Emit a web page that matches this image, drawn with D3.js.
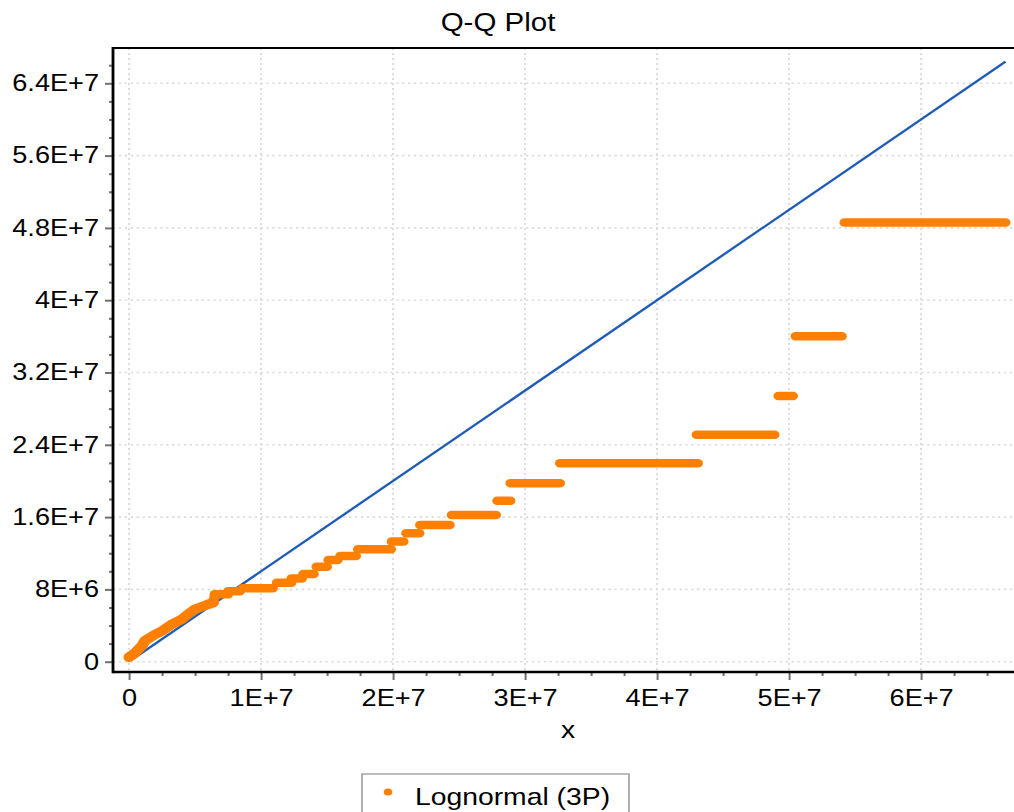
<!DOCTYPE html>
<html>
<head>
<meta charset="utf-8">
<script src="https://cdn.jsdelivr.net/npm/d3@7"></script>
<style>
  html, body { margin: 0; padding: 0; background: #fff; }
  svg { display: block; font-family: "Liberation Sans", Arial, sans-serif; }
</style>
</head>
<body>
<svg id="chart"></svg>
<script>
// values in units of 1e6
const lowX = [0.0, 0.4, 1.0, 1.2, 1.9, 2.5, 3.2, 4.0, 4.6, 5.0, 5.9, 6.4],
      lowY = [0.5, 0.9, 1.8, 2.3, 2.95, 3.4, 4.1, 4.7, 5.4, 5.8, 6.3, 6.55];

const stepStart = [6.5, 7.5, 8.6, 11.2, 12.3, 13.2, 14.2, 15.1, 16.0, 17.35, 19.9, 21.0, 22.05, 24.45, 27.9, 28.9, 32.65, 43.0, 49.2, 50.5, 54.2],
      stepEnd   = [7.5, 8.4, 10.9, 12.3, 13.1, 14.0, 15.0, 15.8, 17.2, 19.85, 20.8, 22.0, 24.3, 27.8, 28.9, 32.65, 43.1, 48.9, 50.3, 54.0, 66.4],
      stepLevel = [7.45, 7.8, 8.12, 8.74, 9.2, 9.7, 10.5, 11.25, 11.7, 12.44, 13.3, 14.2, 15.13, 16.23, 17.8, 19.74, 21.95, 25.1, 29.4, 36.0, 48.6];

const refLine = [0.2, 66.4];

const xTicks = [0, 10, 20, 30, 40, 50, 60],
      xTickLabels = ["0", "1E+7", "2E+7", "3E+7", "4E+7", "5E+7", "6E+7"],
      yTicks = [0, 8, 16, 24, 32, 40, 48, 56, 64],
      yTickLabels = ["0", "8E+6", "1.6E+7", "2.4E+7", "3.2E+7", "4E+7", "4.8E+7", "5.6E+7", "6.4E+7"];

const W = 1014, H = 812,
      sx = 1.18,             // the picture is stretched horizontally
      px = v => v / sx,
      colorPoints = "#ff8000",
      colorLine = "#1f5cb6",
      colorGrid = "#dcdcdc",
      colorTick = "#707070";

const svg = d3.select("#chart")
    .attr("width", W).attr("height", H)
    .attr("viewBox", `0 0 ${px(W)} ${H}`)
    .attr("preserveAspectRatio", "none");

const plotLeft = px(113), plotRight = px(W), plotTop = 48, plotBottom = 672;

const x = d3.scaleLinear().domain([0, 60]).range([px(129), px(921)]),
      y = d3.scaleLinear().domain([0, 64]).range([661.7, 83.3]);

// grid
svg.append("g").selectAll("line").data(xTicks).join("line")
    .attr("x1", d => x(d)).attr("x2", d => x(d))
    .attr("y1", plotTop).attr("y2", plotBottom)
    .attr("stroke", colorGrid).attr("stroke-width", 1.6)
    .attr("stroke-dasharray", "2,3");
svg.append("g").selectAll("line").data(yTicks).join("line")
    .attr("x1", plotLeft).attr("x2", plotRight)
    .attr("y1", d => y(d)).attr("y2", d => y(d))
    .attr("stroke", colorGrid).attr("stroke-width", 1.6)
    .attr("stroke-dasharray", "2,3");

// minor ticks
let xMinor = d3.range(0, 67.5, 2.5).filter(v => v % 10 !== 0),
    yMinor = d3.range(2, 67, 2).filter(v => v % 8 !== 0);

svg.append("g")
    .attr("transform", `translate(0,${plotBottom})`)
    .call(d3.axisBottom(x).tickValues(xMinor).tickSize(4).tickFormat(""))
    .call(g => g.select(".domain").remove())
    .call(g => g.selectAll("line").attr("stroke", colorTick).attr("stroke-width", 1.7));

svg.append("g")
    .attr("transform", `translate(${plotLeft},0)`)
    .call(d3.axisLeft(y).tickValues(yMinor).tickSize(px(4)).tickFormat(""))
    .call(g => g.select(".domain").remove())
    .call(g => g.selectAll("line").attr("stroke", colorTick).attr("stroke-width", 2));

// major axes
svg.append("g")
    .attr("transform", `translate(0,${plotBottom})`)
    .call(d3.axisBottom(x).tickValues(xTicks).tickSize(8).tickPadding(9.5)
        .tickFormat((d, i) => xTickLabels[i]))
    .call(g => g.select(".domain").remove())
    .call(g => g.selectAll("line").attr("stroke", colorTick).attr("stroke-width", 1.7))
    .call(g => g.selectAll("text").attr("fill", "#000").style("font-size", "23px"));

svg.append("g")
    .attr("transform", `translate(${plotLeft},0)`)
    .call(d3.axisLeft(y).tickValues(yTicks).tickSize(px(8)).tickPadding(px(6))
        .tickFormat((d, i) => yTickLabels[i]))
    .call(g => g.select(".domain").remove())
    .call(g => g.selectAll("line").attr("stroke", colorTick).attr("stroke-width", 2))
    .call(g => g.selectAll("text").attr("fill", "#000").style("font-size", "23px"));

// frame
svg.append("line").attr("x1", plotLeft).attr("x2", plotRight).attr("y1", plotTop).attr("y2", plotTop)
    .attr("stroke", "#000").attr("stroke-width", 2.2);
svg.append("line").attr("x1", plotLeft).attr("x2", plotRight).attr("y1", plotBottom).attr("y2", plotBottom)
    .attr("stroke", "#000").attr("stroke-width", 2.6);
svg.append("line").attr("x1", plotLeft).attr("x2", plotLeft).attr("y1", plotTop - 1).attr("y2", plotBottom + 1.3)
    .attr("stroke", "#000").attr("stroke-width", px(2.8));

// reference line
svg.append("line")
    .attr("x1", x(refLine[0])).attr("y1", y(refLine[0]))
    .attr("x2", x(refLine[1])).attr("y2", y(refLine[1]))
    .attr("stroke", colorLine).attr("stroke-width", 2.2);

// points: lower curve
svg.append("path")
    .datum(d3.zip(lowX, lowY))
    .attr("d", d3.line().x(d => x(d[0])).y(d => y(d[1])))
    .attr("fill", "none")
    .attr("stroke", colorPoints).attr("stroke-width", 9.5)
    .attr("stroke-linecap", "round").attr("stroke-linejoin", "round");

// points: the flat runs
svg.append("g").selectAll("line").data(stepLevel).join("line")
    .attr("x1", (d, i) => x(stepStart[i])).attr("x2", (d, i) => x(stepEnd[i]))
    .attr("y1", d => y(d)).attr("y2", d => y(d))
    .attr("stroke", colorPoints).attr("stroke-width", 8.5)
    .attr("stroke-linecap", "round");

// connect the first run to the lower curve
svg.append("line")
    .attr("x1", x(lowX[lowX.length - 1])).attr("y1", y(lowY[lowY.length - 1]))
    .attr("x2", x(stepStart[0])).attr("y2", y(stepLevel[0]))
    .attr("stroke", colorPoints).attr("stroke-width", 8.5)
    .attr("stroke-linecap", "round");

// title and axis label
svg.append("text")
    .attr("x", px(498)).attr("y", 31)
    .attr("text-anchor", "middle")
    .style("font-size", "25px")
    .text("Q-Q Plot");

svg.append("text")
    .attr("x", px(568)).attr("y", 738)
    .attr("text-anchor", "middle")
    .style("font-size", "24px")
    .text("x");

// legend
const legend = svg.append("g");
legend.append("rect")
    .attr("x", px(362)).attr("y", 774)
    .attr("width", px(629 - 362)).attr("height", 60)
    .attr("fill", "#fff").attr("stroke", "#a6a6a6").attr("stroke-width", 1.5);
legend.append("circle")
    .attr("cx", px(388)).attr("cy", 792).attr("r", 3.6)
    .attr("fill", colorPoints);
legend.append("text")
    .attr("x", px(415)).attr("y", 805)
    .style("font-size", "24px")
    .text("Lognormal (3P)");
</script>
</body>
</html>
